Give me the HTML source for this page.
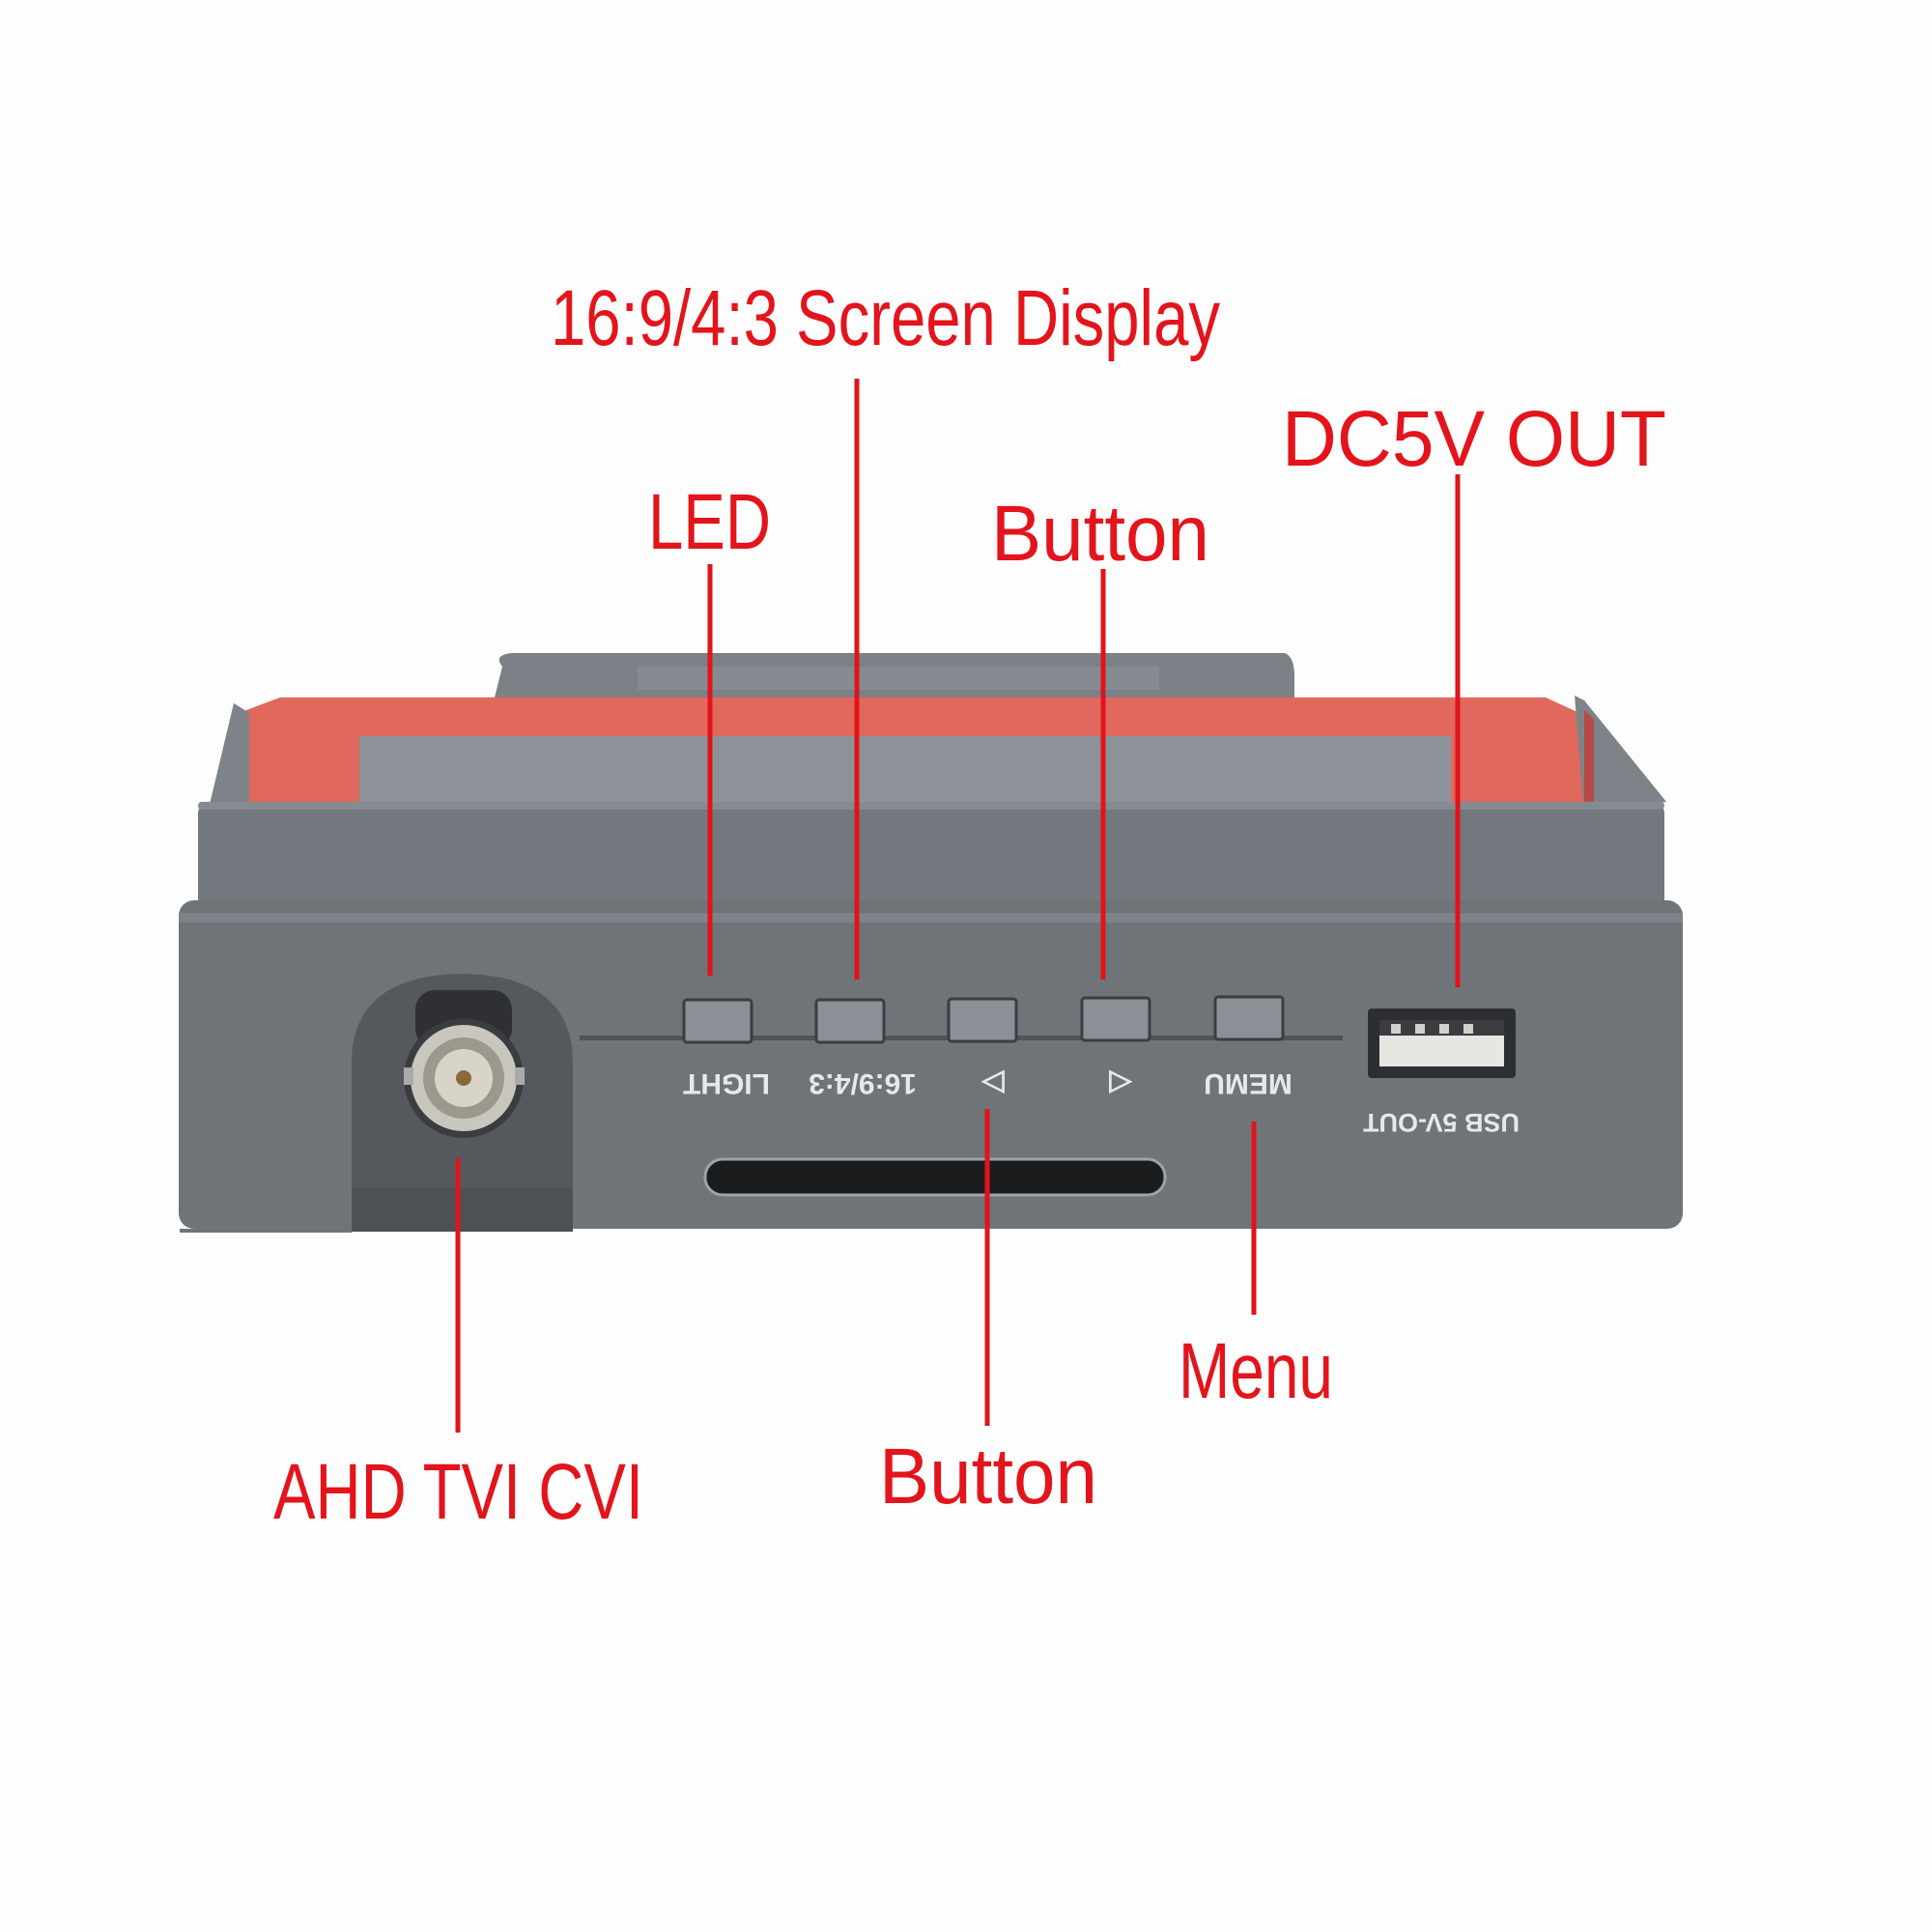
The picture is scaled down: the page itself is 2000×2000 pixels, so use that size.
<!DOCTYPE html>
<html><head><style>html,body{margin:0;padding:0;background:#fff}svg{display:block}</style></head>
<body>
<svg width="2000" height="2000" viewBox="0 0 2000 2000" xmlns="http://www.w3.org/2000/svg">
<rect width="2000" height="2000" fill="#fdfdfd"/>
<path d="M520 690 Q510 678 530 676 L1330 676 Q1340 680 1340 700 L1340 730 L510 730 Z" fill="#7c8187"/>
<rect x="660" y="690" width="540" height="24" fill="#868b91"/>
<path d="M242 740 L290 722 L1600 722 L1650 745 L1650 845 L242 845 Z" fill="#e0685c"/>
<rect x="372" y="762" width="1130" height="83" fill="#8e9399"/>
<path d="M242 728 L258 738 L258 845 L214 845 Z" fill="#7e8389"/>
<path d="M1630 720 L1640 725 L1725 830 L1640 845 Z" fill="#7e8389"/>
<path d="M1640 735 L1650 745 L1650 845 L1640 845 Z" fill="#b74a44"/>
<rect x="205" y="830" width="1518" height="122" rx="12" fill="#73787e"/>
<rect x="205" y="830" width="1518" height="8" rx="4" fill="#868b91"/>
<rect x="185" y="932" width="1557" height="340" rx="16" fill="#6f7479"/>
<rect x="185" y="945" width="1557" height="10" fill="#7e8389"/>
<path d="M364 1275 L364 1100 Q364 1010 478 1008 Q593 1010 593 1100 L593 1275 Z" fill="#55595e"/>
<path d="M364 1275 L364 1230 L593 1230 L593 1275 Z" fill="#4d5156"/>
<rect x="186" y="1272" width="178" height="4" fill="#6f7479"/>
<rect x="430" y="1025" width="100" height="60" rx="20" fill="#2e3034"/>
<circle cx="480" cy="1116" r="62" fill="#3a3c40"/>
<circle cx="480" cy="1116" r="55" fill="#c9c6bd"/>
<circle cx="480" cy="1116" r="42" fill="#9c988e"/>
<circle cx="480" cy="1116" r="30" fill="#d8d4ca"/>
<circle cx="480" cy="1116" r="8" fill="#8a6a3a"/>
<rect x="418" y="1105" width="10" height="18" fill="#aaa"/>
<rect x="533" y="1105" width="10" height="18" fill="#aaa"/>
<rect x="600" y="1072" width="790" height="5" fill="#4f5358"/>
<g fill="#8b9096" stroke="#3a3d41" stroke-width="3">
<rect x="708" y="1035" width="70" height="44" rx="3"/>
<rect x="845" y="1035" width="70" height="44" rx="3"/>
<rect x="982" y="1034" width="70" height="44" rx="3"/>
<rect x="1120" y="1033" width="70" height="44" rx="3"/>
<rect x="1258" y="1032" width="70" height="44" rx="3"/>
</g>
<g fill="#e8e8e8" font-family="Liberation Sans Narrow, Liberation Sans, sans-serif" font-weight="bold" font-size="30" text-anchor="middle">
<text transform="translate(752,1112) rotate(180)">LIGHT</text>
<text transform="translate(893,1112) rotate(180)">16:9/4:3</text>
<text transform="translate(1028,1112) rotate(180)">▷</text>
<text transform="translate(1160,1112) rotate(180)">◁</text>
<text transform="translate(1292,1112) rotate(180)">MEMU</text>
<text transform="translate(1492,1153) rotate(180)" font-size="27">USB 5V-OUT</text>
</g>
<rect x="730" y="1200" width="476" height="37" rx="18" fill="#1b1c1e" stroke="#9ea3a8" stroke-width="3"/>
<rect x="1416" y="1044" width="153" height="72" rx="4" fill="#2c2e31"/>
<rect x="1428" y="1056" width="129" height="48" fill="#e6e6e2"/>
<rect x="1428" y="1056" width="129" height="16" fill="#3a3c40"/>
<g fill="#d0d0cc"><rect x="1440" y="1060" width="10" height="10"/><rect x="1465" y="1060" width="10" height="10"/><rect x="1490" y="1060" width="10" height="10"/><rect x="1515" y="1060" width="10" height="10"/></g>
<g stroke="#e0141a" stroke-width="5">
<line x1="735" y1="584" x2="735" y2="1010"/>
<line x1="887" y1="392" x2="887" y2="1014"/>
<line x1="1142" y1="589" x2="1142" y2="1014"/>
<line x1="1509" y1="491" x2="1509" y2="1022"/>
<line x1="1022" y1="1148" x2="1022" y2="1476"/>
<line x1="1298" y1="1161" x2="1298" y2="1361"/>
<line x1="474" y1="1199" x2="474" y2="1483"/>
</g>
<g fill="#e3141b" font-family="Liberation Sans Narrow, Liberation Sans, sans-serif" font-size="82">
<text x="570" y="357" textLength="693" lengthAdjust="spacingAndGlyphs">16:9/4:3 Screen Display</text>
<text x="671" y="568" textLength="127" lengthAdjust="spacingAndGlyphs">LED</text>
<text x="1026" y="580" textLength="226" lengthAdjust="spacingAndGlyphs">Button</text>
<text x="1327" y="482" textLength="398" lengthAdjust="spacingAndGlyphs">DC5V OUT</text>
<text x="1220" y="1447" textLength="160" lengthAdjust="spacingAndGlyphs">Menu</text>
<text x="910" y="1556" textLength="226" lengthAdjust="spacingAndGlyphs">Button</text>
<text x="283" y="1572" textLength="383" lengthAdjust="spacingAndGlyphs">AHD TVI CVI</text>
</g>
</svg>
</body></html>
